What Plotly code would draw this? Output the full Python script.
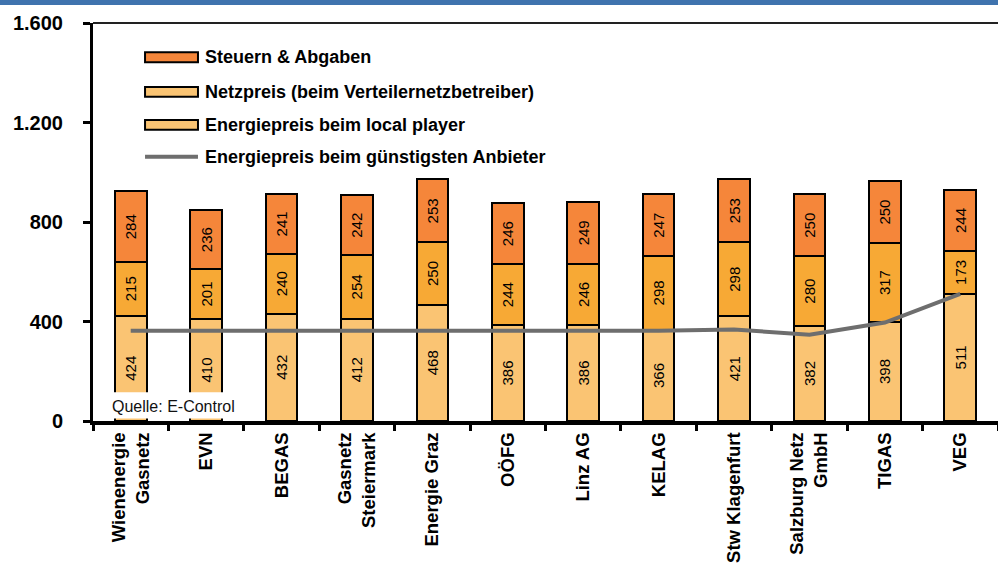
import plotly.graph_objects as go

categories = ["Wienenergie<br>Gasnetz", "EVN", "BEGAS", "Gasnetz<br>Steiermark", "Energie Graz",
              "OÖFG", "Linz AG", "KELAG", "Stw Klagenfurt", "Salzburg Netz<br>GmbH", "TIGAS", "VEG"]
energie_local = [424, 410, 432, 412, 468, 386, 386, 366, 421, 382, 398, 511]
netzpreis = [215, 201, 240, 254, 250, 244, 246, 298, 298, 280, 317, 173]
steuern = [284, 236, 241, 242, 253, 246, 249, 247, 253, 250, 250, 244]
guenstigster = [363, 363, 363, 363, 363, 363, 363, 363, 368, 347, 396, 511]

y_tickvals = [0, 400, 800, 1200, 1600]
y_ticktext = ["0", "400", "800", "1.200", "1.600"]

series_names = ["Steuern & Abgaben", "Netzpreis (beim Verteilernetzbetreiber)",
                "Energiepreis beim local player", "Energiepreis beim günstigsten Anbieter"]

C_STEUER = "#F5863A"
C_NETZ = "#F7A935"
C_ENERGIE = "#FAC473"
C_LEGEND_NETZ = "#FAC473"
C_LINE = "#6E6E6E"
FONT = "Liberation Sans, Arial, sans-serif"

fig = go.Figure()
bar_common = dict(width=0.42, marker_line_color="black", marker_line_width=2,
                  textposition="inside", insidetextanchor="middle", textangle=-90,
                  textfont=dict(family=FONT, size=15, color="black"), showlegend=False,
                  constraintext="none")
fig.add_trace(go.Bar(x=categories, y=energie_local, name=series_names[2], marker_color=C_ENERGIE,
                     text=[str(v) for v in energie_local], **bar_common))
fig.add_trace(go.Bar(x=categories, y=netzpreis, name=series_names[1], marker_color=C_NETZ,
                     text=[str(v) for v in netzpreis], **bar_common))
fig.add_trace(go.Bar(x=categories, y=steuern, name=series_names[0], marker_color=C_STEUER,
                     text=[str(v) for v in steuern], **bar_common))
fig.add_trace(go.Scatter(x=categories, y=guenstigster, name=series_names[3], mode="lines",
                         line=dict(color=C_LINE, width=4), showlegend=False))

shapes = []
annotations = []

# manual legend
leg_rows = [0.914, 0.827, 0.744, 0.664]
leg_colors = [C_STEUER, C_LEGEND_NETZ, C_ENERGIE, None]
sx0, sx1 = 0.0575, 0.116
for name, yc, col in zip(series_names, leg_rows, leg_colors):
    if col:
        shapes.append(dict(type="rect", xref="paper", yref="paper", x0=sx0, x1=sx1,
                           y0=yc - 0.0125, y1=yc + 0.0125, fillcolor=col,
                           line=dict(color="black", width=2), layer="above"))
    else:
        shapes.append(dict(type="line", xref="paper", yref="paper", x0=sx0, x1=sx1,
                           y0=yc, y1=yc, line=dict(color=C_LINE, width=4), layer="above"))
    annotations.append(dict(xref="paper", yref="paper", x=0.1215, y=yc, text="<b>%s</b>" % name,
                            showarrow=False, xanchor="left", yanchor="middle",
                            font=dict(family=FONT, size=18, color="black")))

# source box
shapes.append(dict(type="rect", xref="paper", yref="paper", x0=0.009, x1=0.19, y0=0.006, y1=0.072,
                   fillcolor="white", line=dict(width=0), layer="above"))
annotations.append(dict(xref="paper", yref="paper", x=0.019, y=0.037, text="Quelle: E-Control",
                        showarrow=False, xanchor="left", yanchor="middle",
                        font=dict(family=FONT, size=16, color="#111111")))

# top border line
shapes.append(dict(type="line", xref="paper", yref="paper", x0=0, x1=1, y0=1, y1=1,
                   line=dict(color="#222222", width=2)))
# blue header strip
shapes.append(dict(type="rect", xref="paper", yref="paper", x0=-0.11, x1=1.01, y0=1.045, y1=1.07,
                   fillcolor="#3F73AE", line=dict(width=0)))

fig.update_layout(
    width=998, height=565,
    margin=dict(l=93, r=0, t=23, b=144),
    paper_bgcolor="white", plot_bgcolor="white",
    barmode="stack",
    shapes=shapes, annotations=annotations,
    font=dict(family=FONT, color="black"),
    xaxis=dict(type="category", range=[-0.5, 11.5], showline=True, linecolor="black", linewidth=4,
               ticks="outside", tickson="boundaries", ticklen=6, tickwidth=3, tickcolor="black",
               tickangle=-90, tickfont=dict(family=FONT, size=18.5, color="black", weight="bold"),
               showgrid=False, zeroline=False, fixedrange=True),
    yaxis=dict(range=[0, 1600], tickvals=y_tickvals, ticktext=y_ticktext, showline=True,
               linecolor="black", linewidth=3, ticks="outside", ticklen=7, tickwidth=3,
               tickcolor="black", tickfont=dict(family=FONT, size=20, color="black", weight="bold"),
               ticklabelstandoff=16, showgrid=False, zeroline=False),
)

fig.write_html("out.html")
